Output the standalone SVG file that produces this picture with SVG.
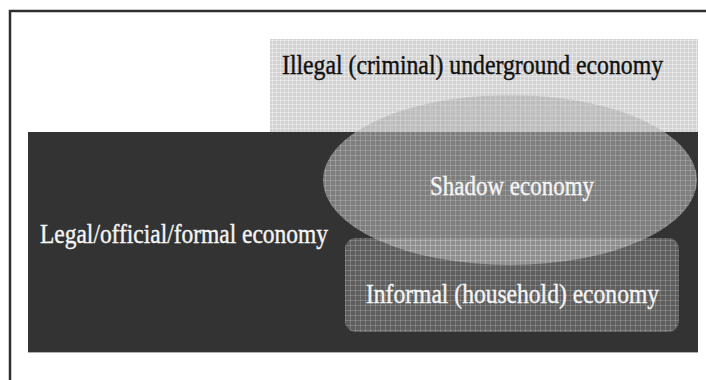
<svg xmlns="http://www.w3.org/2000/svg" width="706" height="380" viewBox="0 0 706 380">
<defs>
<pattern id="gridL" width="4" height="4" patternUnits="userSpaceOnUse">
<path d="M0 0.5H4M0.5 0V4" stroke="#ffffff" stroke-opacity="0.35" stroke-width="1" fill="none"/>
</pattern>
<pattern id="gridD" width="5" height="5" patternUnits="userSpaceOnUse">
<path d="M0 0.5H5M0.5 0V5" stroke="#ffffff" stroke-opacity="0.18" stroke-width="1" fill="none"/>
</pattern>
</defs>
<style>
.lbl{font-family:"Liberation Serif","DejaVu Serif",serif;font-size:23.5px;stroke-width:0.35px;}
.dark{fill:#111111;stroke:#111111;}
.white{fill:#f4f4f4;stroke:#f4f4f4;}
</style>
<rect x="0" y="0" width="706" height="380" fill="#ffffff"/>
<rect id="frame" x="10" y="11" width="720" height="420" fill="none" stroke="#2e2e2e" stroke-width="2.5"/>
<g id="illegal">
<rect x="270" y="39" width="428" height="95" fill="#d2d2d2"/>
<rect x="270" y="39" width="428" height="95" fill="url(#gridL)"/>
</g>
<g id="legal">
<rect x="28" y="132" width="670" height="220" fill="#333333"/>
<line x1="28" y1="352.5" x2="698" y2="352.5" stroke="#b0b0b0" stroke-width="1"/>
</g>
<g id="informal">
<rect x="345" y="238" width="334" height="94" rx="11" fill="#5e5e5e"/>
<rect x="345" y="238" width="334" height="94" rx="11" fill="url(#gridD)"/>
</g>
<g id="shadow">
<ellipse cx="510" cy="180" rx="187" ry="85" fill="#acacac" fill-opacity="0.62"/>
<ellipse cx="510" cy="180" rx="187" ry="85" fill="url(#gridD)"/>
</g>
<g id="connectors"></g>
<g id="labels">
<text class="lbl dark" transform="translate(282,74) scale(1,1.2)" textLength="381" lengthAdjust="spacingAndGlyphs">Illegal (criminal) underground economy</text>
<text class="lbl white" transform="translate(430,195) scale(1,1.2)" textLength="164" lengthAdjust="spacingAndGlyphs">Shadow economy</text>
<text class="lbl white" transform="translate(40,243) scale(1,1.2)" textLength="288" lengthAdjust="spacingAndGlyphs">Legal/official/formal economy</text>
<text class="lbl white" transform="translate(366,303) scale(1,1.2)" textLength="293" lengthAdjust="spacingAndGlyphs">Informal (household) economy</text>
</g>
</svg>
